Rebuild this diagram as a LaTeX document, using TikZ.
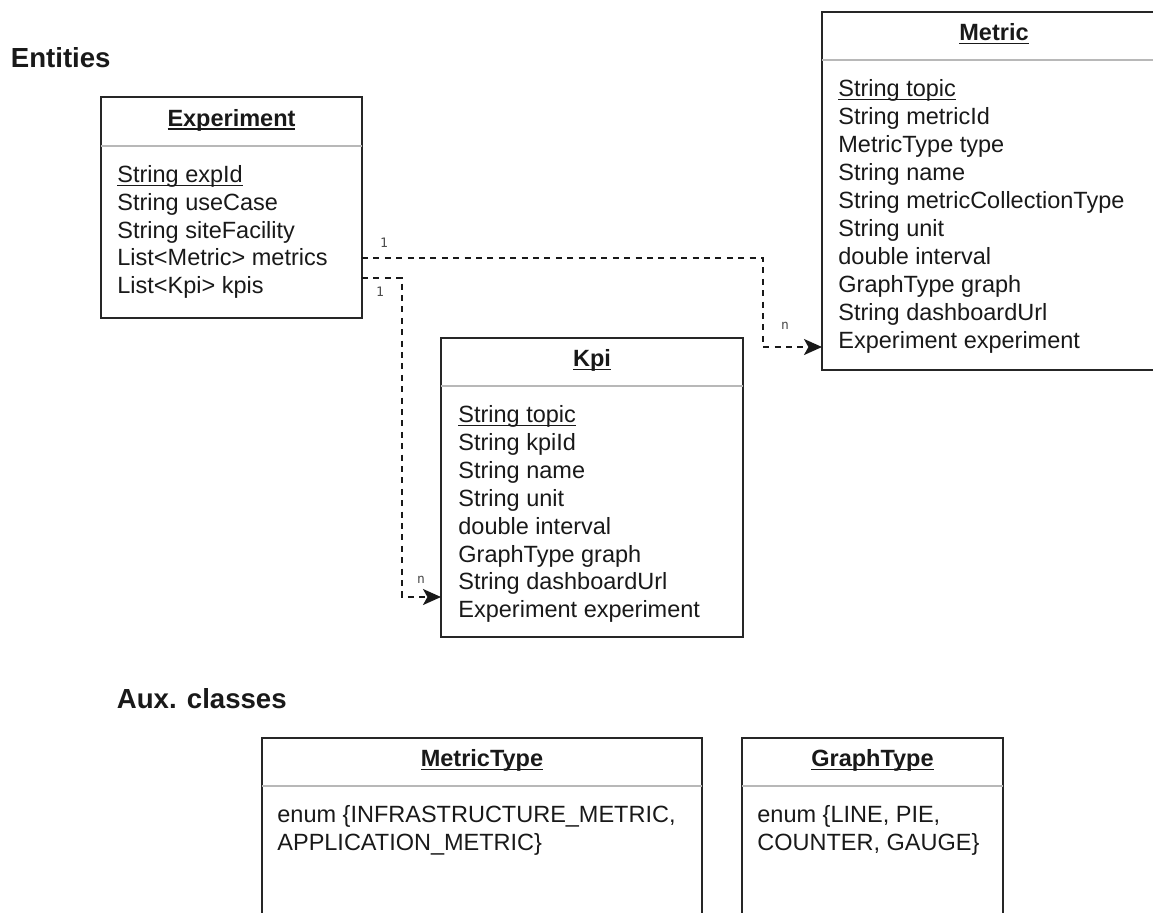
\documentclass[tikz,border=0pt]{standalone}
\usepackage{fontspec}
\setmainfont{Liberation Sans}
\newfontfamily\multfont{DejaVu Sans Mono}
\usetikzlibrary{arrows.meta}
\newcommand\myul[1]{\setbox0\hbox{#1}\rlap{\rule[-1.8pt]{\wd0}{0.8pt}}\box0}
\begin{document}
\begin{tikzpicture}[x=0.5pt,y=-0.5pt,
  cls/.style={draw=black!85, line width=1pt, anchor=north west, inner sep=0pt, outer sep=0pt},
  title/.style={font=\fontsize{11.75}{14}\selectfont\bfseries, anchor=base, inner sep=0pt, text=black!90},
  body/.style={font=\fontsize{11.75}{14}\selectfont, anchor=base west, inner sep=0pt, text=black!90},
  sep/.style={draw=black!28, line width=1pt},
  heading/.style={font=\fontsize{13.8}{16}\selectfont\bfseries, anchor=base west, inner sep=0pt, text=black!90},
  conn/.style={draw=black!90, line width=0.9pt, dash pattern=on 3pt off 2.7pt, -{Stealth[length=9pt,width=8pt,inset=2.2pt]}},
  mult/.style={font=\multfont\fontsize{6.5}{8}\selectfont, text=black!70, inner sep=0pt}
]
\useasboundingbox (0,0) rectangle (1153,912);
\clip (0,0) rectangle (1153,912);

% headings
\node[heading] (hEnt) at (10.5,67.5) {Entities};
\node[heading] (hAux) at (116.5,708.3) {Aux. classes};

% Experiment
\node[cls, minimum width=130.5pt, minimum height=110.5pt] (exp) at (101,97) {};
\draw[sep] (exp.west |- 0,146) -- (exp.east |- 0,146);
\node[title] (expT) at (231.5,126) {\myul{Experiment}};
\foreach [count=\i] \t in {{\myul{String expId}},String useCase,String siteFacility,List<Metric> metrics,List<Kpi> kpis}
  \node[body] (exp-\i) at (117,{182.8+27.7*(\i-1)}) {\t};

% Metric
\node[cls, minimum width=172pt, minimum height=179pt] (metric) at (822,12) {};
\draw[sep] (metric.west |- 0,60) -- (metric.east |- 0,60);
\node[title] (metricT) at (994,40.5) {\myul{Metric}};
\foreach [count=\i] \t in {{\myul{String topic}},String metricId,MetricType type,String name,String metricCollectionType,String unit,double interval,GraphType graph,String dashboardUrl,Experiment experiment}
  \node[body] (metric-\i) at (838,{96.5+27.95*(\i-1)}) {\t};

% Kpi
\node[cls, minimum width=151pt, minimum height=149.5pt] (kpi) at (441,338) {};
\draw[sep] (kpi.west |- 0,386) -- (kpi.east |- 0,386);
\node[title] (kpiT) at (592,366.7) {\myul{Kpi}};
\foreach [count=\i] \t in {{\myul{String topic}},String kpiId,String name,String unit,double interval,GraphType graph,String dashboardUrl,Experiment experiment}
  \node[body] (kpi-\i) at (458,{422.7+27.86*(\i-1)}) {\t};

% MetricType
\node[cls, minimum width=220pt, minimum height=105pt] (mt) at (262,738) {};
\draw[sep] (mt.west |- 0,786) -- (mt.east |- 0,786);
\node[title] (mtT) at (482,766.7) {\myul{MetricType}};
\node[body] (mt-1) at (277,822.7) {enum \{INFRASTRUCTURE\_METRIC,};
\node[body] (mt-2) at (277,850.7) {APPLICATION\_METRIC\}};

% GraphType
\node[cls, minimum width=130.5pt, minimum height=105pt] (gt) at (742,738) {};
\draw[sep] (gt.west |- 0,786) -- (gt.east |- 0,786);
\node[title] (gtT) at (872.5,766.7) {\myul{GraphType}};
\node[body] (gt-1) at (757,822.7) {enum \{LINE, PIE,};
\node[body] (gt-2) at (757,850.7) {COUNTER, GAUGE\}};

% connectors
\draw[conn] (exp.east |- 0,258) -| (763,347) -- (metric.west |- 0,347);
\draw[conn] (exp.east |- 0,278) -| (402,597) -- (kpi.west |- 0,597);

% multiplicities
\node[mult] (m1) at (384,243) {1};
\node[mult] (m2) at (785,326) {n};
\node[mult] (m3) at (380,292) {1};
\node[mult] (m4) at (421,580) {n};
\end{tikzpicture}
\end{document}
